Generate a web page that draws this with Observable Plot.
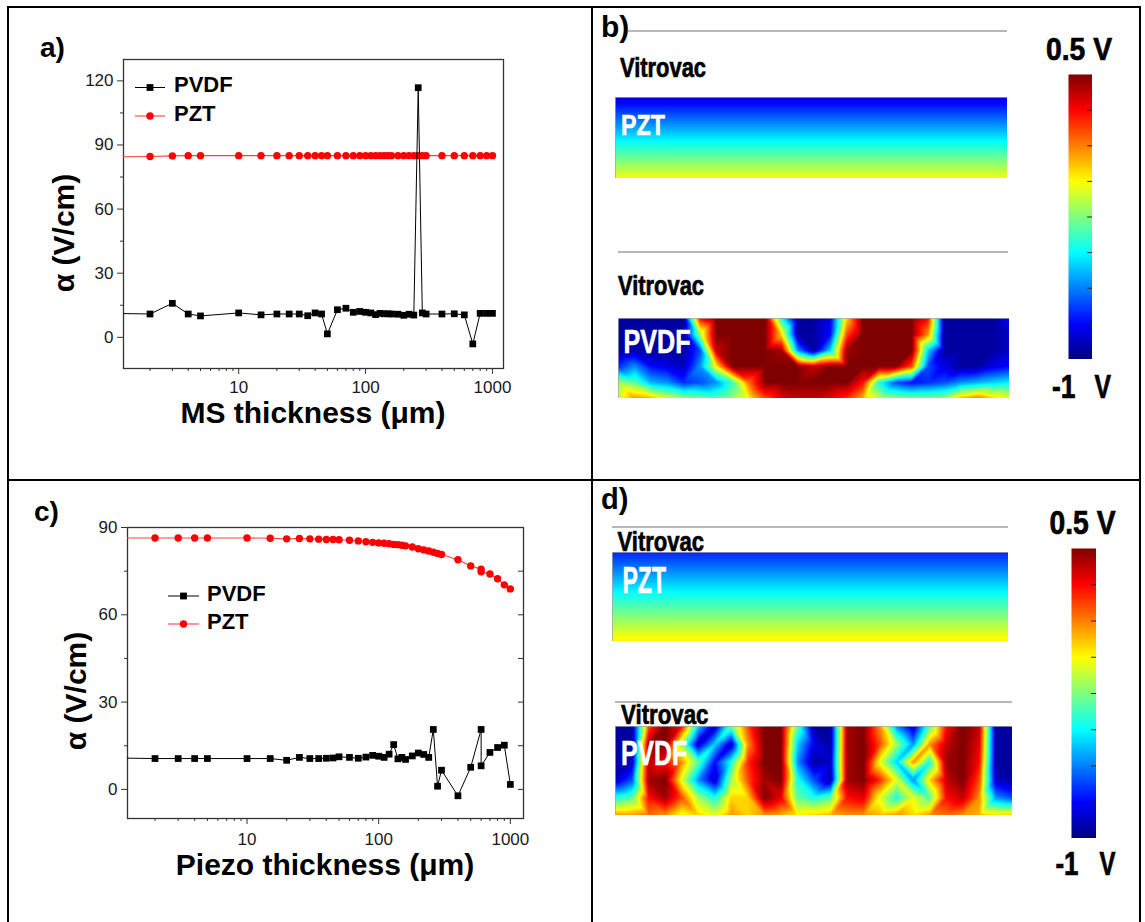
<!DOCTYPE html>
<html><head><meta charset="utf-8">
<script src="https://cdn.jsdelivr.net/npm/d3@7"></script>
<script src="https://cdn.jsdelivr.net/npm/@observablehq/plot@0.6"></script>
<style>
body{margin:0;background:#fff}
#fig{position:relative;width:1145px;height:922px;overflow:hidden;background:#fff;font-family:"Liberation Sans",Arial,sans-serif}
#fig > div{position:absolute}
#fig svg{display:block}
#overlay{position:absolute;left:0;top:0;pointer-events:none}
.imp{font-family:"Liberation Sans",Arial,sans-serif;font-weight:bold}
.bold{font-family:"Liberation Sans",Arial,sans-serif;font-weight:bold}
</style></head><body><div id="fig"></div>
<script>
// ---------- data: panel a (alpha vs MS thickness) ----------
const thicknessA = [1,2,3,4,5,10,15,20,25,30,35,40,45,50,60,70,80,90,100,110,120,130,140,150,160,180,200,220,240,260,280,300,400,500,600,700,800,900,1000];
const pvdfA = [11.2,10.9,15.9,10.9,10.0,11.4,10.5,10.9,10.9,10.9,10.1,11.4,10.9,1.6,12.9,13.6,11.7,12.1,11.7,11.4,10.6,11.2,11.0,11.0,10.9,10.8,10.3,10.8,10.4,116.8,11.4,10.9,10.9,11.0,10.5,-3.1,11.2,11.2,11.2];
const pztA = [84.4,84.6,84.9,85.0,85.0,85.0,85.0,85.0,85.0,85.0,85.0,85.0,85.0,85.0,85.0,85.0,85.0,85.0,85.0,85.0,85.0,85.0,85.0,85.0,85.0,85.0,85.0,85.0,85.0,85.0,85.0,85.0,85.0,85.0,85.0,85.0,85.0,85.0,85.0];
// ---------- data: panel c (alpha vs piezo thickness) ----------
const thicknessC = [1,2,3,4,5,10,15,20,25,30,35,40,45,50,60,70,80,90,100,110,120,130,140,150,160,180,200,220,240,260,280,300,400,500,600,600,700,800,900,1000];
const pvdfC = [10.8,10.6,10.6,10.6,10.6,10.6,10.6,10.0,11.0,10.6,10.6,10.7,10.8,11.2,11.0,10.7,11.1,11.7,11.4,11.0,12.1,15.4,10.5,11.0,10.3,11.5,12.5,12.0,11.0,20.6,1.1,6.6,-2.2,7.6,20.6,8.1,12.7,14.4,15.2,1.7];
const pztC = [86.4,86.4,86.4,86.4,86.4,86.4,86.3,86.1,86.2,86.1,86.0,85.9,85.9,85.8,85.6,85.4,85.1,84.9,84.7,84.6,84.4,84.2,84.1,83.9,83.7,83.3,82.7,82.3,81.9,81.5,81.1,80.7,78.9,76.8,75.7,74.8,74.0,72.4,70.3,68.9];
// ---------- tick labels ----------
const xTicks = [10, 100, 1000];
const xMinorTicks = [2,3,4,5,6,7,8,9,20,30,40,50,60,70,80,90,200,300,400,500,600,700,800,900];
const yTicksA = [0, 30, 60, 90, 120];
const yMinorA = [15, 45, 75, 105];
const yTicksC = [0, 30, 60, 90];
const yMinorC = [15, 45, 75];
const yRightC = [0, 15, 30, 45, 60, 75];
// ---------- simulated potential maps (V), rows top -> bottom ----------
const pztProfileB = [-0.86, -0.73, -0.60, -0.47, -0.34, -0.21, -0.08];
const pztProfileD = [-0.76, -0.64, -0.52, -0.40, -0.28, -0.16, -0.04];
const pvdfFieldB = [
  [-0.95,-0.95,-0.95,-0.95,-0.95,0.3,0.5,0.5,0.5,0.5,-0.4,-0.95,-0.95,-0.85,0.0,0.5,0.5,0.5,0.5,0.3,-0.95,-0.95,-0.95,-0.95,-0.8],
  [-0.95,-0.95,-0.95,-0.95,-0.95,-0.2,0.5,0.5,0.5,0.5,0.0,-0.95,-0.95,-0.8,0.2,0.5,0.5,0.5,0.5,0.1,-0.95,-0.95,-0.95,-0.95,-0.9],
  [-0.95,-0.93,-0.95,-0.95,-0.95,-0.7,0.4,0.5,0.5,0.5,0.45,-0.6,-0.95,-0.5,0.45,0.5,0.5,0.5,0.5,-0.5,-0.95,-0.95,-0.95,-0.95,-0.9],
  [-0.75,-0.6,-0.8,-0.85,-0.9,-0.6,-0.05,0.5,0.5,0.5,0.5,0.5,0.4,0.5,0.5,0.5,0.5,0.5,0.2,-0.7,-0.85,-0.95,-0.95,-0.85,-0.8],
  [-0.2,-0.3,-0.55,-0.6,-0.75,-0.7,-0.6,-0.35,0.15,0.5,0.5,0.5,0.5,0.5,0.5,0.3,-0.4,-0.7,-0.8,-0.75,-0.7,-0.6,-0.55,-0.5,-0.45],
  [-0.15,0.1,0.05,-0.1,-0.2,-0.25,-0.3,-0.2,-0.05,0.2,0.35,0.4,0.4,0.35,0.25,0.05,-0.15,-0.2,-0.25,-0.25,-0.2,0.05,0.15,0.0,-0.1]
];
const pvdfFieldD = [
  [-0.95,-0.95,0.2,0.5,0.3,-0.5,-0.9,-0.3,0.2,0.5,0.5,-0.3,-0.95,-0.95,0.45,0.5,0.1,-0.6,-0.9,-0.3,0.3,0.5,0.4,-0.95,-0.95],
  [-0.95,-0.95,0.45,0.5,-0.2,-0.9,-0.5,-0.9,0.1,0.5,0.5,-0.5,-0.85,-0.95,0.45,0.5,0.2,-0.2,-0.6,0.1,0.4,0.5,0.35,-0.95,-0.95],
  [-0.95,-0.9,0.4,0.3,0.1,-0.3,-0.8,-0.4,0.25,0.5,0.5,-0.6,-0.95,-0.9,0.45,0.5,-0.1,-0.5,0.1,-0.4,0.45,0.5,0.3,-0.95,-0.95],
  [-0.9,-0.7,0.45,0.5,-0.1,-0.6,-0.9,-0.2,0.2,0.45,0.5,-0.4,-0.7,-0.95,0.45,0.5,0.25,-0.1,-0.6,0.0,0.4,0.5,0.2,-0.9,-0.95],
  [-0.4,-0.3,0.3,0.45,0.2,-0.2,-0.4,0.0,0.0,0.5,0.35,-0.3,-0.4,-0.3,0.3,0.35,-0.1,-0.4,-0.1,-0.3,0.3,0.4,0.1,-0.6,-0.7],
  [0.1,0.1,0.15,0.1,-0.1,0.0,-0.1,0.1,0.0,0.1,0.05,-0.05,0.0,0.05,0.1,0.1,0.05,0.1,0.0,0.1,0.15,0.1,0.05,0.0,0.05]
];
const colorbarRange = [-1, 0.5];
const jetColors = ["#00007f","#0000ff","#007fff","#00ffff","#7fff7f","#ffff00","#ff7f00","#ff0000","#7f0000"];

// ---------- helpers ----------
const fig = document.getElementById("fig");
function place(node, left, top) {
  const d = document.createElement("div");
  d.style.left = left + "px"; d.style.top = top + "px";
  d.appendChild(node); fig.appendChild(d);
}
const jetScale = {
  type: "linear",
  domain: jetColors.map((_, i) => colorbarRange[0] + (colorbarRange[1] - colorbarRange[0]) * i / (jetColors.length - 1)),
  range: jetColors, interpolate: "rgb", clamp: true
};

function lineChart(o) {
  const pv = o.thickness.map((t, i) => ({t, v: o.pvdf[i]}));
  const pz = o.thickness.map((t, i) => ({t, v: o.pzt[i]}));
  const marks = [
    Plot.axisX({ticks: xTicks, tickFormat: d => String(d), tickSize: 6, tickPadding: o.xPad, label: null, stroke: "#333"}),
    Plot.axisX({ticks: xMinorTicks, tickFormat: () => "", tickSize: 3, label: null, stroke: "#333"}),
    Plot.axisY({ticks: o.yTicks, tickFormat: d => String(d), tickSize: 6, tickPadding: 4, label: null, stroke: "#333"}),
    Plot.axisY({ticks: o.yMinor, tickFormat: () => "", tickSize: 3, label: null, stroke: "#333"}),
    Plot.frame({stroke: "#333", strokeWidth: 1.3})
  ];
  if (o.yRight) marks.push(Plot.tickY(o.yRight, {y: d => d, insetLeft: o.w - o.ml - o.mr - 5, stroke: "#333"}));
  marks.push(
    Plot.line(pz, {x: "t", y: "v", stroke: "#ff4040", strokeWidth: 1.1, clip: true}),
    Plot.dot(pz, {x: "t", y: "v", fill: "#ff0000", r: 3.7, clip: true}),
    Plot.line(pv, {x: "t", y: "v", stroke: "#000", strokeWidth: 1, clip: true}),
    Plot.dot(pv, {x: "t", y: "v", fill: "#000", symbol: "square", r: 3.8, clip: true})
  );
  return Plot.plot({
    width: o.w, height: o.h,
    marginLeft: o.ml, marginRight: o.mr, marginTop: o.mt, marginBottom: o.mb,
    x: {type: "log", domain: o.xDomain},
    y: {domain: o.yDomain},
    style: {fontFamily: "'Liberation Sans', Arial, sans-serif", fontSize: "17px", color: "#1a1a1a", background: "transparent", overflow: "visible"},
    marks
  });
}

function fieldPlot(field, w, h) {
  const nx = field[0].length, ny = field.length;
  const pts = field.flatMap((row, j) => row.map((v, i) => ({gx: i / (nx - 1), gy: j / (ny - 1), v})));
  return Plot.plot({
    width: w, height: h, margin: 0,
    x: {domain: [0, 1], axis: null}, y: {domain: [0, 1], reverse: true, axis: null},
    color: jetScale,
    style: {background: "transparent"},
    marks: [
      Plot.raster(pts, {x: "gx", y: "gy", fill: "v", interpolate: "barycentric", x1: 0, y1: 0, x2: 1, y2: 1}),
      Plot.frame({stroke: "#777", strokeOpacity: 0.5})
    ]
  });
}
function profileField(profile) {
  return profile.map(v => [v, v]);
}
function colorbar(w, h) {
  const n = jetColors.length - 1;
  const tickVals = d3.range(1, n).map(k => colorbarRange[0] + (colorbarRange[1] - colorbarRange[0]) * k / n);
  return Plot.plot({
    width: w, height: h, margin: 0,
    x: {domain: [0, 1], axis: null}, y: {domain: colorbarRange, axis: null},
    color: jetScale, style: {background: "transparent"},
    marks: [
      Plot.raster({fill: (x, y) => y, x1: 0, x2: 1, y1: colorbarRange[0], y2: colorbarRange[1]}),
      Plot.ruleY(tickVals, {x1: 0.8, x2: 1, stroke: "#222"})
    ]
  });
}

// ---------- panel a ----------
place(lineChart({thickness: thicknessA, pvdf: pvdfA, pzt: pztA, w: 590, h: 470, ml: 123, mr: 87, mt: 59, mb: 102,
  xDomain: [1.236, 1222], yDomain: [-14.6, 130], yTicks: yTicksA, yMinor: yMinorA, xPad: 6}), 0, 0);
// ---------- panel c ----------
place(lineChart({thickness: thicknessC, pvdf: pvdfC, pzt: pztC, w: 590, h: 442, ml: 127, mr: 67, mt: 47, mb: 104,
  xDomain: [1.236, 1259], yDomain: [-10, 90], yTicks: yTicksC, yMinor: yMinorC, yRight: yRightC, xPad: 8}), 0, 480);
// ---------- panel b ----------
place(fieldPlot(profileField(pztProfileB), 392, 81), 615, 97);
place(fieldPlot(pvdfFieldB, 391, 80), 618, 318);
place(colorbar(24, 285), 1068, 74);
// ---------- panel d ----------
place(fieldPlot(profileField(pztProfileD), 396, 89), 612, 552);
place(fieldPlot(pvdfFieldD, 397, 89), 615, 726);
place(colorbar(25, 290), 1071, 548);

// ---------- annotations, legends, frame lines ----------
const ns = "http://www.w3.org/2000/svg";
const LA = 'lengthAdjust="spacingAndGlyphs"';
const ov = `
<svg id="overlay" xmlns="${ns}" width="1145" height="922">
  <g stroke="#000" stroke-width="2">
    <line x1="7" y1="7" x2="1141" y2="7"/>
    <line x1="8" y1="6" x2="8" y2="922"/>
    <line x1="1140" y1="6" x2="1140" y2="922"/>
    <line x1="592" y1="6" x2="592" y2="922"/>
    <line x1="7" y1="480" x2="1141" y2="480"/>
  </g>
  <g stroke="#a0a0a0" stroke-width="1.5">
    <line x1="628" y1="31" x2="1007" y2="31"/>
    <line x1="618" y1="252" x2="1008" y2="252"/>
    <line x1="612" y1="527" x2="1008" y2="527"/>
    <line x1="615" y1="702" x2="1012" y2="702"/>
  </g>
  <g class="bold" fill="#000">
    <text x="40" y="57" font-size="28">a)</text>
    <text x="34" y="521" font-size="28">c)</text>
    <text x="601" y="37" font-size="30">b)</text>
    <text x="601" y="509" font-size="29">d)</text>
    <text x="313" y="423" font-size="30" text-anchor="middle">MS thickness (μm)</text>
    <text x="325" y="875" font-size="30" text-anchor="middle">Piezo thickness (μm)</text>
    <text transform="translate(74,233) rotate(-90)" font-size="30" text-anchor="middle">α (V/cm)</text>
    <text transform="translate(86,691) rotate(-90)" font-size="30" text-anchor="middle">α (V/cm)</text>
    <text x="174" y="92" font-size="22">PVDF</text>
    <text x="174" y="121" font-size="22">PZT</text>
    <text x="207" y="601" font-size="22">PVDF</text>
    <text x="207" y="629" font-size="22">PZT</text>
  </g>
  <g>
    <line x1="135" y1="87.5" x2="165" y2="87.5" stroke="#000" stroke-width="1"/>
    <rect x="146.6" y="84.1" width="6.8" height="6.8" fill="#000"/>
    <line x1="135" y1="116" x2="165" y2="116" stroke="#ff4040" stroke-width="1.1"/>
    <circle cx="150" cy="116" r="3.7" fill="#f00"/>
    <line x1="168" y1="596" x2="199" y2="596" stroke="#000" stroke-width="1"/>
    <rect x="180.1" y="592.6" width="6.8" height="6.8" fill="#000"/>
    <line x1="168" y1="624" x2="199" y2="624" stroke="#ff4040" stroke-width="1.1"/>
    <circle cx="183.5" cy="624" r="3.7" fill="#f00"/>
  </g>
  <g class="imp" fill="#000" stroke="#000" stroke-width="0.7">
    <text x="620" y="77" font-size="28" textLength="86" ${LA}>Vitrovac</text>
    <text x="618" y="295" font-size="28" textLength="86" ${LA}>Vitrovac</text>
    <text x="617.5" y="550.5" font-size="28" textLength="86.5" ${LA}>Vitrovac</text>
    <text x="621" y="724" font-size="28" textLength="87.5" ${LA}>Vitrovac</text>
    <text x="1046" y="60" font-size="32" textLength="66" ${LA}>0.5 V</text>
    <text x="1049.5" y="534" font-size="33" textLength="66" ${LA}>0.5 V</text>
    <text x="1052" y="398" font-size="33" textLength="23.5" ${LA}>-1</text>
    <text x="1094.5" y="398" font-size="33" textLength="16.5" ${LA}>V</text>
    <text x="1055.5" y="875" font-size="33" textLength="23" ${LA}>-1</text>
    <text x="1099.5" y="875" font-size="33" textLength="16" ${LA}>V</text>
  </g>
  <g class="imp" fill="#fff" stroke="#fff" stroke-width="0.6">
    <text x="621" y="135" font-size="30" textLength="44" ${LA}>PZT</text>
    <text x="623.5" y="352.5" font-size="34" textLength="67" ${LA}>PVDF</text>
    <text x="622.5" y="592.5" font-size="36" textLength="43.5" ${LA}>PZT</text>
    <text x="621" y="765" font-size="35" textLength="66" ${LA}>PVDF</text>
  </g>
</svg>`;
fig.insertAdjacentHTML("beforeend", ov);
</script></body></html>
